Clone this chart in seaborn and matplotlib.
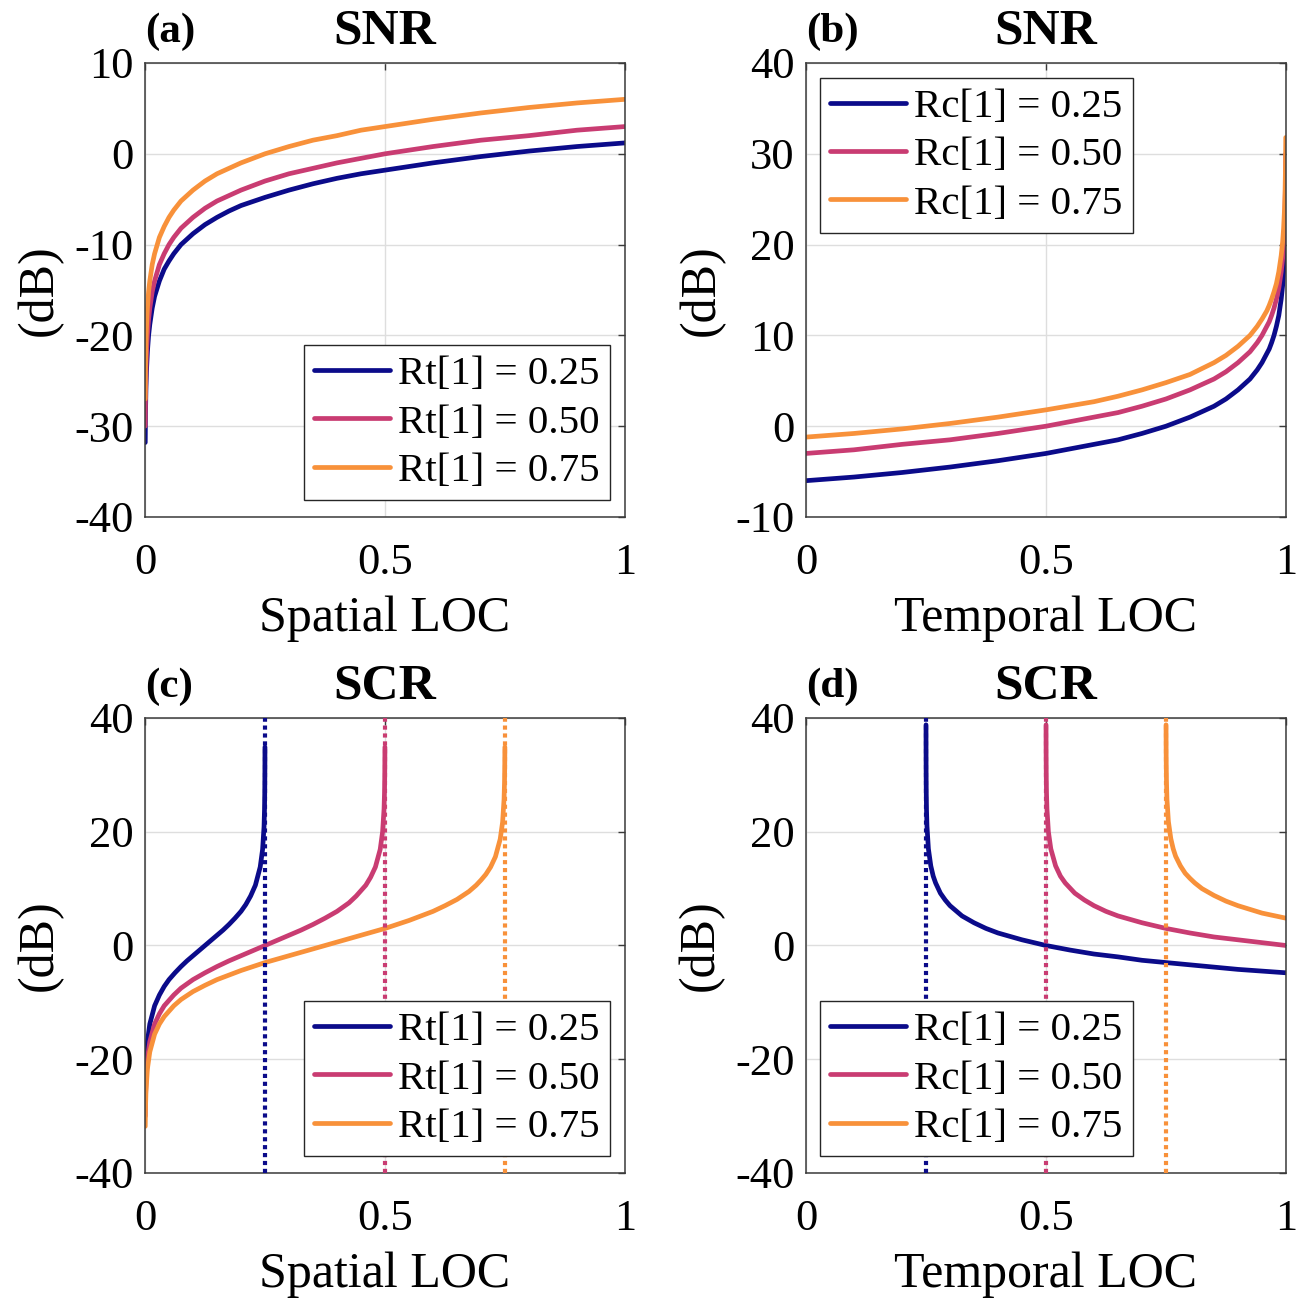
import matplotlib
matplotlib.use("Agg")
import matplotlib.pyplot as plt
import pandas as pd
import seaborn as sns

# ---------------- data ----------------
# Panel (a): SNR vs spatial LOC
loc_a = [0.0005, 0.001, 0.002, 0.003, 0.005, 0.0075, 0.01, 0.015, 0.02, 0.03, 0.04, 0.05, 0.06,
         0.075, 0.1, 0.125, 0.15, 0.175, 0.2, 0.25, 0.3, 0.35, 0.4, 0.45, 0.5, 0.6, 0.7, 0.8,
         0.9, 1.0]
snr_a_rt025 = [-31.8, -28.8, -25.7, -24.0, -21.8, -20.0, -18.8, -17.0, -15.7, -14.0, -12.7, -11.8,
               -11.0, -10.0, -8.8, -7.8, -7.0, -6.3, -5.7, -4.8, -4.0, -3.3, -2.7, -2.2, -1.8,
               -1.0, -0.3, 0.3, 0.8, 1.2]
snr_a_rt050 = [-30.0, -27.0, -24.0, -22.2, -20.0, -18.2, -17.0, -15.2, -14.0, -12.2, -11.0, -10.0,
               -9.2, -8.2, -7.0, -6.0, -5.2, -4.6, -4.0, -3.0, -2.2, -1.6, -1.0, -0.5, 0.0,
               0.8, 1.5, 2.0, 2.6, 3.0]
snr_a_rt075 = [-27.0, -24.0, -21.0, -19.2, -17.0, -15.2, -14.0, -12.2, -11.0, -9.2, -8.0, -7.0,
               -6.2, -5.2, -4.0, -3.0, -2.2, -1.6, -1.0, 0.0, 0.8, 1.5, 2.0, 2.6, 3.0,
               3.8, 4.5, 5.1, 5.6, 6.0]

# Panel (b): SNR vs temporal LOC
loc_b = [0.0, 0.1, 0.2, 0.3, 0.4, 0.5, 0.6, 0.65, 0.7, 0.75, 0.8, 0.85, 0.875, 0.9, 0.925,
         0.94, 0.95, 0.96, 0.965, 0.97, 0.975, 0.98, 0.985, 0.99, 0.993, 0.995, 0.997, 0.998,
         0.999, 0.9995]
snr_b_rc025 = [-6.0, -5.6, -5.1, -4.5, -3.8, -3.0, -2.0, -1.5, -0.8, 0.0, 1.0, 2.2, 3.0, 4.0, 5.2,
               6.2, 7.0, 8.0, 8.5, 9.2, 10.0, 11.0, 12.2, 14.0, 15.5, 17.0, 19.2, 21.0,
               24.0, 27.0]
snr_b_rc050 = [-3.0, -2.6, -2.0, -1.5, -0.8, 0.0, 1.0, 1.5, 2.2, 3.0, 4.0, 5.2, 6.0, 7.0, 8.2,
               9.2, 10.0, 11.0, 11.5, 12.2, 13.0, 14.0, 15.2, 17.0, 18.5, 20.0, 22.2, 24.0,
               27.0, 30.0]
snr_b_rc075 = [-1.2, -0.8, -0.3, 0.3, 1.0, 1.8, 2.7, 3.3, 4.0, 4.8, 5.7, 7.0, 7.8, 8.8, 10.0,
               11.0, 11.8, 12.7, 13.3, 14.0, 14.8, 15.7, 17.0, 18.8, 20.3, 21.8, 24.0, 25.7,
               28.8, 31.8]

# Panel (c): SCR vs spatial LOC
loc_c_rt025 = [0.0005, 0.001, 0.002, 0.005, 0.01, 0.02, 0.03, 0.04, 0.05, 0.0625, 0.075, 0.0875,
               0.1, 0.125, 0.15, 0.1625, 0.175, 0.1875, 0.2, 0.21, 0.22, 0.23, 0.24, 0.245,
               0.248, 0.249, 0.2495, 0.2498, 0.2499, 0.24992]
scr_c_rt025 = [-27.0, -24.0, -20.9, -16.9, -13.8, -10.6, -8.7, -7.2, -6.0, -4.8, -3.7, -2.7,
               -1.8, 0.0, 1.8, 2.7, 3.7, 4.8, 6.0, 7.2, 8.7, 10.6, 13.8, 16.9,
               20.9, 24.0, 27.0, 31.0, 34.0, 34.9]
loc_c_rt050 = [0.0005, 0.001, 0.002, 0.005, 0.01, 0.02, 0.03, 0.04, 0.06, 0.075, 0.1, 0.125,
               0.15, 0.175, 0.2, 0.25, 0.3, 0.325, 0.35, 0.375, 0.4, 0.425, 0.44, 0.46, 0.47,
               0.48, 0.49, 0.495, 0.498, 0.499, 0.4995, 0.4998, 0.49984]
scr_c_rt050 = [-30.0, -27.0, -24.0, -20.0, -16.9, -13.8, -12.0, -10.6, -8.7, -7.5, -6.0, -4.8,
               -3.7, -2.7, -1.8, 0.0, 1.8, 2.7, 3.7, 4.8, 6.0, 7.5, 8.7, 10.6, 12.0,
               13.8, 16.9, 20.0, 24.0, 27.0, 30.0, 34.0, 34.9]
loc_c_rt075 = [0.0005, 0.001, 0.002, 0.005, 0.01, 0.02, 0.03, 0.04, 0.06, 0.075, 0.1, 0.125,
               0.15, 0.175, 0.2, 0.25, 0.3, 0.375, 0.45, 0.5, 0.55, 0.575, 0.6, 0.625, 0.65,
               0.675, 0.69, 0.7, 0.71, 0.72, 0.73, 0.74, 0.745, 0.748, 0.749, 0.7495, 0.74976]
scr_c_rt075 = [-31.8, -28.7, -25.7, -21.7, -18.7, -15.6, -13.8, -12.5, -10.6, -9.5, -8.1, -7.0,
               -6.0, -5.2, -4.4, -3.0, -1.8, 0.0, 1.8, 3.0, 4.4, 5.2, 6.0, 7.0, 8.1,
               9.5, 10.6, 11.5, 12.5, 13.8, 15.6, 18.7, 21.7, 25.7, 28.7, 31.8, 34.9]

# Panel (d): SCR vs temporal LOC
loc_d_rc025 = [0.250033, 0.25005, 0.2501, 0.2502, 0.2505, 0.251, 0.252, 0.255, 0.26, 0.265, 0.27,
               0.28, 0.29, 0.3, 0.325, 0.35, 0.375, 0.4, 0.45, 0.5, 0.55, 0.6, 0.65, 0.7, 0.75,
               0.8, 0.9, 1.0]
scr_d_rc025 = [38.8, 37.0, 34.0, 31.0, 27.0, 24.0, 21.0, 17.0, 14.0, 12.2, 11.0,
               9.2, 8.0, 7.0, 5.2, 4.0, 3.0, 2.2, 1.0, 0.0, -0.8, -1.5, -2.0, -2.6, -3.0,
               -3.4, -4.2, -4.8]
loc_d_rc050 = [0.500066, 0.5001, 0.5002, 0.5005, 0.501, 0.502, 0.505, 0.51, 0.52, 0.53, 0.54,
               0.56, 0.58, 0.6, 0.625, 0.65, 0.7, 0.75, 0.8, 0.85, 0.9, 0.95, 1.0]
scr_d_rc050 = [38.8, 37.0, 34.0, 30.0, 27.0, 24.0, 20.0, 17.0, 14.0, 12.2, 11.0,
               9.2, 8.0, 7.0, 6.0, 5.2, 4.0, 3.0, 2.2, 1.5, 1.0, 0.5, 0.0]
loc_d_rc075 = [0.7501, 0.75015, 0.7503, 0.7505, 0.751, 0.752, 0.755, 0.76, 0.765, 0.77, 0.78,
               0.79, 0.8, 0.81, 0.825, 0.85, 0.875, 0.9, 0.95, 1.0]
scr_d_rc075 = [38.8, 37.0, 34.0, 31.8, 28.8, 25.7, 21.8, 18.8, 17.0, 15.7, 14.0,
               12.7, 11.8, 11.0, 10.0, 8.8, 7.8, 7.0, 5.7, 4.8]

ratios = [0.25, 0.50, 0.75]
rt_labels = ["Rt[1] = 0.25", "Rt[1] = 0.50", "Rt[1] = 0.75"]
rc_labels = ["Rc[1] = 0.25", "Rc[1] = 0.50", "Rc[1] = 0.75"]
colors = ["#0b0b8a", "#c93c72", "#f8913a"]

# ---------------- style ----------------
sns.set_theme(style="white")
plt.rcParams["font.family"] = ["Liberation Serif", "DejaVu Serif"]
plt.rcParams["axes.unicode_minus"] = False
plt.rcParams["text.color"] = "black"
plt.rcParams["axes.labelcolor"] = "black"
plt.rcParams["xtick.color"] = "black"
plt.rcParams["ytick.color"] = "black"

W, H = 1313, 1303
fig = plt.figure(figsize=(W / 100, H / 100), dpi=100)


def px_axes(left, top, right, bottom):
    return fig.add_axes([left / W, 1 - bottom / H, (right - left) / W, (bottom - top) / H])


def make_df(xs, ys, labels):
    frames = []
    for x, y, lab in zip(xs, ys, labels):
        frames.append(pd.DataFrame({"loc": x, "db": y, "series": lab}))
    return pd.concat(frames, ignore_index=True)


def draw_panel(ax, df, labels, ylim, yticks, xlabel, title, tag, legend_loc, legend_anchor,
               vlines=False):
    sns.lineplot(data=df, x="loc", y="db", hue="series", hue_order=labels,
                 palette=dict(zip(labels, colors)), estimator=None, sort=True,
                 linewidth=3.4, ax=ax)
    if vlines:
        for r, c in zip(ratios, colors):
            ax.axvline(r, color=c, linestyle=(0, (1.0, 0.9)), linewidth=3.0, zorder=3)
    ax.set_xlim(0, 1)
    ax.set_ylim(*ylim)
    ax.set_xticks([0, 0.5, 1])
    ax.set_xticklabels(["0", "0.5", "1"])
    ax.set_yticks(yticks)
    ax.set_yticklabels([str(v) for v in yticks])
    ax.grid(True, color="#dedede", linewidth=1.0)
    ax.set_axisbelow(True)
    for sp in ax.spines.values():
        sp.set_color("#3a3a3a")
        sp.set_linewidth(1.1)
    ax.tick_params(axis="both", direction="in", length=5, width=1, color="#3a3a3a",
                   top=True, right=True, labelsize=32, labelcolor="black")
    ax.tick_params(axis="x", pad=19)
    ax.tick_params(axis="y", pad=8)
    ax.set_xlabel(xlabel, fontsize=36, labelpad=9, color="black")
    ax.set_ylabel("(dB)", fontsize=36, labelpad=8, color="black")
    ax.set_title(title, fontsize=37, fontweight="bold", pad=14, color="black")
    ax.text(0.0, 1.0 + 21 / 454, tag, transform=ax.transAxes, fontsize=31,
            fontweight="bold", ha="left", va="baseline", color="black")
    handles, labs = ax.get_legend_handles_labels()
    leg = ax.legend(handles, labs, loc=legend_loc, bbox_to_anchor=legend_anchor,
                    fontsize=29.5, frameon=True, fancybox=False, shadow=False,
                    borderaxespad=0.0, handlelength=1.85, handletextpad=0.2,
                    labelspacing=0.26, borderpad=0.25, framealpha=1.0)
    leg.get_frame().set_edgecolor("#262626")
    leg.get_frame().set_linewidth(1.0)
    for text in leg.get_texts():
        text.set_color("black")
    for line in leg.get_lines():
        line.set_linewidth(3.4)


ax_a = px_axes(145, 63, 625, 517)
df_a = make_df([loc_a, loc_a, loc_a], [snr_a_rt025, snr_a_rt050, snr_a_rt075], rt_labels)
draw_panel(ax_a, df_a, rt_labels, (-40, 10), [-40, -30, -20, -10, 0, 10], "Spatial LOC",
           "SNR", "(a)", "lower right", (0.969, 0.037))

ax_b = px_axes(806, 63, 1286, 517)
df_b = make_df([loc_b, loc_b, loc_b], [snr_b_rc025, snr_b_rc050, snr_b_rc075], rc_labels)
draw_panel(ax_b, df_b, rc_labels, (-10, 40), [-10, 0, 10, 20, 30, 40], "Temporal LOC",
           "SNR", "(b)", "upper left", (0.029, 0.967))

ax_c = px_axes(145, 718, 625, 1173)
df_c = make_df([loc_c_rt025, loc_c_rt050, loc_c_rt075],
               [scr_c_rt025, scr_c_rt050, scr_c_rt075], rt_labels)
draw_panel(ax_c, df_c, rt_labels, (-40, 40), [-40, -20, 0, 20, 40], "Spatial LOC",
           "SCR", "(c)", "lower right", (0.969, 0.037), vlines=True)

ax_d = px_axes(806, 718, 1286, 1173)
df_d = make_df([loc_d_rc025, loc_d_rc050, loc_d_rc075],
               [scr_d_rc025, scr_d_rc050, scr_d_rc075], rc_labels)
draw_panel(ax_d, df_d, rc_labels, (-40, 40), [-40, -20, 0, 20, 40], "Temporal LOC",
           "SCR", "(d)", "lower left", (0.029, 0.037), vlines=True)

fig.savefig("out.png", dpi=100, facecolor="white")
